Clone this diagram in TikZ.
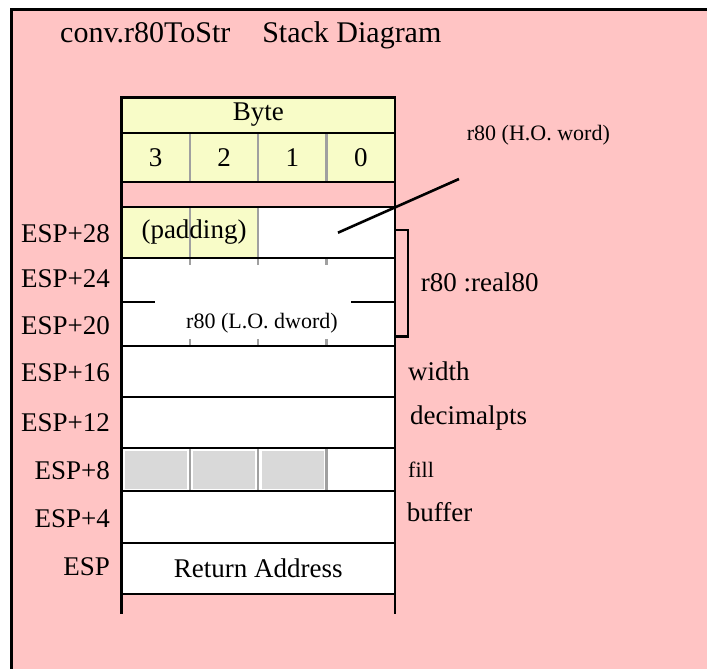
\documentclass[tikz,border=0pt]{standalone}
\usepackage{fontspec}
\setmainfont{Liberation Serif}
\usepackage{xcolor}
\usetikzlibrary{positioning}
\definecolor{stackpink}{RGB}{255,196,196}
\definecolor{byteyellow}{RGB}{248,252,200}
\definecolor{slotgray}{RGB}{217,217,217}
\definecolor{divgray}{RGB}{160,160,160}

\begin{document}
\begin{tikzpicture}[x=1pt, y=-1pt,
    cellline/.style={line width=2.6pt},
    divider/.style={draw=divgray, line width=2.4pt},
    lbl/.style={inner sep=0pt, font=\fontsize{27}{30}\selectfont},
    smalllbl/.style={inner sep=0pt, font=\fontsize{22}{25}\selectfont}]
    % 1. Nền hồng và khung ngoài
    \clip (0,0) rectangle (707,669);
    \fill[stackpink] (11.5,10) rectangle (720,680);
    \draw[line width=3pt] (11.5,690) -- (11.5,10) -- (720,10);

    % 2. Tiêu đề
    \node[anchor=west, inner sep=0pt, font=\fontsize{30}{34}\selectfont] (title)
        at (60,35) {conv.r80ToStr\hspace{32pt}Stack Diagram};

    % 3. Hàng tiêu đề Byte và số thứ tự byte
    \fill[byteyellow] (121.5,97.5) rectangle (395,182);
    \node[lbl] (byte) at (258.25,115) {Byte};
    \foreach \i/\b in {0/3,1/2,2/1,3/0}
        \node[lbl] (b\b) at ({121.5+68.375*(\i+0.5)},157.5) {\b};
    \foreach \i in {1,2,3}
        \draw[divider] ({121.5+68.375*\i},133) -- ({121.5+68.375*\i},182);
    \draw[cellline] (121.5,97.5) rectangle (395,182);
    \draw[cellline] (121.5,133) -- (395,133);

    % 4. Các ô của ngăn xếp
    \fill[white] (121.5,207) rectangle (395,594);
    \fill[byteyellow] (121.5,207) rectangle (258.25,258);
    \foreach \x in {189.875,258.25}
        \draw[divider] (\x,207) -- (\x,258);
    \foreach \x in {189.875,258.25,326.625} {
        \draw[divider] (\x,258) -- (\x,265);
        \draw[divider] (\x,339) -- (\x,346);
        \draw[divider] (\x,448) -- (\x,491);
    }
    \foreach \i in {0,1,2}
        \fill[slotgray] ({121.5+68.375*\i+3.5},451) rectangle ({121.5+68.375*(\i+1)-3},489);
    \foreach \y in {207,258,346,397,448,491,543,594}
        \draw[cellline] (121.5,\y) -- (395,\y);
    \draw[cellline] (121.5,302) -- (155,302);
    \draw[cellline] (351,302) -- (395,302);
    \draw[cellline] (121.5,182) -- (121.5,614);
    \draw[cellline] (395,182) -- (395,614);

    % 5. Nội dung các ô
    \node[lbl] (padding) at (194,232.5) {(padding)};
    \node[smalllbl] (lodword) at (262,323) {r80 (L.O. dword)};
    \node[lbl] (retaddr) at (258.25,568.5) {Return Address};

    % 6. Địa chỉ bên trái
    \foreach \y/\t in {234/ESP+28, 279/ESP+24, 325.5/ESP+20, 373/ESP+16,
                       423/ESP+12, 471/ESP+8, 519/ESP+4, 567/ESP}
        \node[lbl, anchor=east] at (110,\y) {\t};

    % 7. Tên tham số bên phải
    \node[smalllbl, anchor=west] (howord) at (466.7,135) {r80 (H.O. word)};
    \coordinate (hotip) at (338,232.7);
    \coordinate (hoend) at (459,179);
    \draw[cellline] (hotip) -- (hoend);
    \draw[cellline] (395,230) -- (408,230) -- (408,336.7) -- (395,336.7);
    \node[lbl, anchor=west] (real) at (420.7,282.7) {r80 :real80};
    \node[lbl, anchor=west] (width) at (408,371.5) {width};
    \node[lbl, anchor=west] (decpts) at (410,418) {decimalpts};
    \node[smalllbl, anchor=west] (fill) at (408,470) {fill};
    \node[lbl, anchor=west] (buffer) at (406.7,511.7) {buffer};
\end{tikzpicture}
\end{document}
